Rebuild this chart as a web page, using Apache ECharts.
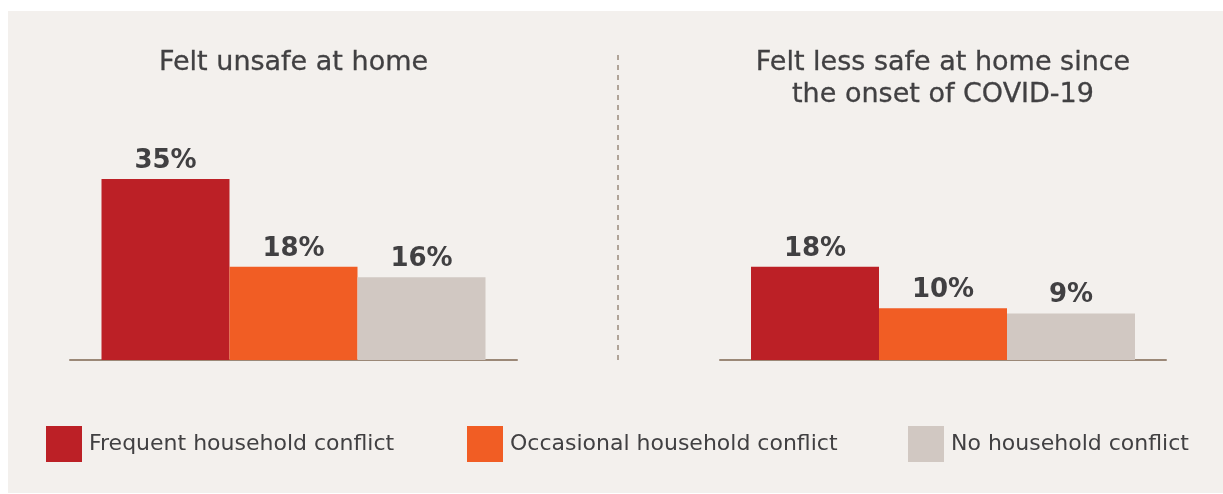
<!DOCTYPE html>
<html>
<head>
<meta charset="utf-8">
<script src="https://cdn.jsdelivr.net/npm/echarts@6/dist/echarts.min.js"></script>
<style>
  html, body { margin: 0; padding: 0; background: #ffffff; }
  #chart { width: 1223px; height: 494px; }
</style>
</head>
<body>
<div id="chart"></div>
<script>
// Panel titles (one per bar group)
const panelTitles = ['Felt unsafe at home', 'Felt less safe at home since\nthe onset of COVID-19'];
// Household-conflict groups shown in the legend
const conflictGroups = ['Frequent household conflict', 'Occasional household conflict', 'No household conflict'];
// Percentages per panel, one array per conflict group
const frequentValues = [35, 18];
const occasionalValues = [18, 10];
const noConflictValues = [16, 9];

const groupValues = [frequentValues, occasionalValues, noConflictValues];
const groupColors = ['#bc2026', '#f15d24', '#d1c8c2'];
const textColor = '#414042';
const fontFamily = '"DejaVu Sans", sans-serif';

const grids = [
  { left: 70, width: 447, top: 153, height: 207 },
  { left: 720, width: 446, top: 153, height: 207 }
];
const titleCenters = [293.5, 943];

const series = [];
grids.forEach((g, gi) => {
  conflictGroups.forEach((name, si) => {
    series.push({
      type: 'bar',
      name: name,
      xAxisIndex: gi,
      yAxisIndex: gi,
      data: [groupValues[si][gi]],
      barWidth: 128,
      barGap: '0%',
      itemStyle: { color: groupColors[si] },
      label: {
        show: true,
        position: 'top',
        distance: 5,
        formatter: '{c}%',
        fontFamily: fontFamily,
        fontWeight: 'bold',
        fontSize: 26,
        color: textColor
      },
      emphasis: { disabled: true }
    });
  });
});

const legendLefts = [46, 467, 908];

const option = {
  backgroundColor: '#ffffff',
  animation: false,
  graphic: {
    elements: [
      {
        type: 'rect',
        z: -10,
        shape: { x: 8, y: 11, width: 1215, height: 482 },
        style: { fill: '#f3f0ed' },
        silent: true
      },
      {
        type: 'line',
        z: -5,
        shape: { x1: 618, y1: 55, x2: 618, y2: 365 },
        style: { stroke: '#9a8a7c', lineWidth: 1.5, lineDash: [5, 5] },
        silent: true
      }
    ]
  },
  title: panelTitles.map((t, i) => ({
    text: t,
    left: titleCenters[i],
    top: i === 0 ? 49 : 47,
    textAlign: 'center',
    padding: 0,
    textStyle: {
      fontFamily: fontFamily,
      fontWeight: 'normal',
      fontSize: 27,
      lineHeight: i === 0 ? 27 : 32,
      color: textColor,
      textBorderColor: textColor,
      textBorderWidth: 0.3
    }
  })),
  legend: conflictGroups.map((name, i) => ({
    data: [name],
    left: legendLefts[i],
    top: 426,
    padding: 0,
    icon: 'rect',
    itemWidth: 36,
    itemHeight: 36,
    selectedMode: false,
    textStyle: {
      fontFamily: fontFamily,
      fontSize: 22,
      color: textColor,
      padding: [0, 0, 0, 2]
    }
  })),
  grid: grids,
  xAxis: grids.map((g, i) => ({
    type: 'category',
    gridIndex: i,
    data: [panelTitles[i]],
    axisLine: { show: true, lineStyle: { color: '#9b8877', width: 2 } },
    axisTick: { show: false },
    axisLabel: { show: false },
    splitLine: { show: false }
  })),
  yAxis: grids.map((g, i) => ({
    type: 'value',
    gridIndex: i,
    min: 0,
    max: 40,
    show: false,
    splitLine: { show: false }
  })),
  series: series
};

const chart = echarts.init(document.getElementById('chart'), null, { renderer: 'canvas' });
chart.setOption(option);
</script>
</body>
</html>
